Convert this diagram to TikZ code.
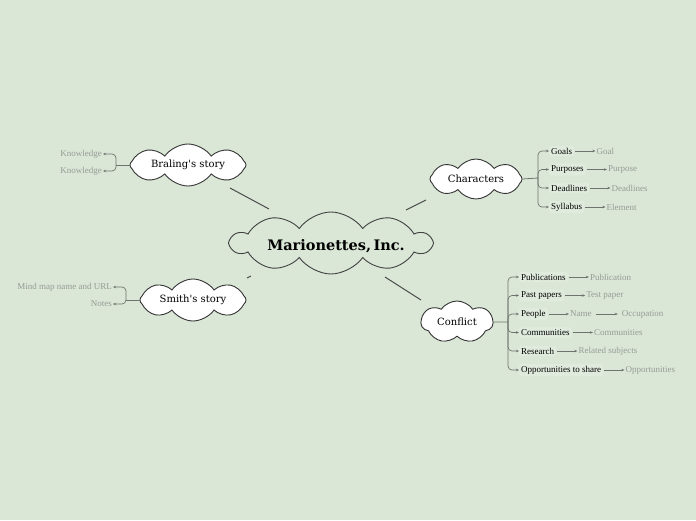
\documentclass[tikz,border=0pt]{standalone}
\usepackage{fontspec}
\setmainfont{Liberation Serif}
\newfontfamily\slabfont{DejaVu Serif}
\usetikzlibrary{shapes.symbols,arrows.meta,positioning}
\definecolor{bgc}{RGB}{218,231,214}
\definecolor{boxc}{RGB}{224,235,221}
\definecolor{linec}{RGB}{75,75,75}
\definecolor{brc}{RGB}{110,115,110}
\definecolor{subc}{RGB}{150,155,150}
\tikzset{
  cloudbox/.style={cloud, cloud puffs=8, cloud puff arc=110, cloud ignores aspect, draw=black!80, line width=0.9pt, fill=white, inner sep=0pt, font=\slabfont\fontsize{10}{12}\selectfont},
  itembox/.style={anchor=west, fill=boxc, rounded corners=2pt, inner sep=2pt, text=black, font=\fontsize{9}{10}\selectfont},
  subtxt/.style={anchor=west, inner sep=1pt, text=subc, font=\fontsize{9}{10}\selectfont},
  lefttxt/.style={anchor=east, inner sep=1pt, text=subc, font=\fontsize{9}{10}\selectfont},
  conn/.style={draw=linec, line width=1pt},
  brl/.style={draw=brc, line width=0.8pt},
  bra/.style={draw=brc, line width=0.7pt, rounded corners=4pt, -{Stealth[length=3pt,width=2.5pt]}},
  suba/.style={draw=brc, line width=0.7pt, -{Stealth[length=3pt,width=2.5pt]}},
}
\begin{document}
\begin{tikzpicture}[x=1pt,y=1pt]
\fill[bgc] (0,0) rectangle (696,-520);
\useasboundingbox (0,0) rectangle (696,-520);

% central
\node[cloud, cloud puffs=10, cloud puff arc=110, cloud ignores aspect, draw=black!75, line width=0.9pt, fill=bgc, minimum width=200pt, minimum height=62pt, inner sep=0pt] (main) at (331,-243) {};
\node[font=\slabfont\bfseries\fontsize{14.5}{16}\selectfont, inner sep=0pt] (maintext) at (336,-246) {Marionettes,\,Inc.};

% topic clouds
\node[cloudbox, minimum width=116pt, minimum height=42pt] (bral) at (188,-165) {Braling's story};
\node[cloudbox, minimum width=92pt, minimum height=40pt] (char) at (476,-179) {Characters};
\node[cloudbox, minimum width=106pt, minimum height=42pt] (smith) at (193,-300) {Smith's story};
\node[cloudbox, cloud puffs=7, minimum width=72pt, minimum height=42pt] (conf) at (457,-322) {Conflict};

% connectors from center
\coordinate (c1a) at (269,-209); \coordinate (c1b) at (230,-188);
\coordinate (c2a) at (406,-210); \coordinate (c2b) at (426,-200);
\coordinate (c3a) at (251,-276); \coordinate (c3b) at (247,-278);
\coordinate (c4a) at (385,-277); \coordinate (c4b) at (421,-300);
\draw[conn] (c1a) -- (c1b);
\draw[conn] (c2a) -- (c2b);
\draw[conn] (c3a) -- (c3b);
\draw[conn] (c4a) -- (c4b);

% Characters branch
\coordinate (cj) at (538,-178);
\draw[brl] (char.east) -- (cj);
\node[itembox] (goals) at (549,-151) {Goals};
\node[itembox] (purp) at (549,-169.5) {Purposes};
\node[itembox] (dead) at (549,-188) {Deadlines};
\node[itembox] (syll) at (549,-207) {Syllabus};
\foreach \n in {goals,purp,dead,syll} \draw[bra] (cj) |- (\n.west);
\node[subtxt, right=21pt of goals] (goal) {Goal};
\node[subtxt, right=21pt of purp] (purpose) {Purpose};
\node[subtxt, right=21pt of dead] (deadl) {Deadlines};
\node[subtxt, right=21pt of syll] (elem) {Element};
\draw[suba] ([xshift=1pt]goals.east) -- (goal.west);
\draw[suba] ([xshift=1pt]purp.east) -- (purpose.west);
\draw[suba] ([xshift=1pt]dead.east) -- (deadl.west);
\draw[suba] ([xshift=1pt]syll.east) -- (elem.west);

% Conflict branch
\coordinate (fj) at (508,-322);
\draw[brl] (conf.east) -- (fj);
\node[itembox] (pub) at (519,-277) {Publications};
\node[itembox] (past) at (519,-295.5) {Past papers};
\node[itembox] (peop) at (519,-314) {People};
\node[itembox] (comm) at (519,-332.5) {Communities};
\node[itembox] (res) at (519,-351) {Research};
\node[itembox] (opp) at (519,-370) {Opportunities to share};
\foreach \n in {pub,past,peop,comm,res,opp} \draw[bra] (fj) |- (\n.west);
\node[subtxt, right=21pt of pub] (publ) {Publication};
\node[subtxt, right=21pt of past] (test) {Test paper};
\node[subtxt, right=21pt of peop] (name) {Name};
\node[subtxt, right=28pt of name] (occ) {Occupation};
\node[subtxt, right=21pt of comm] (comm2) {Communities};
\node[subtxt, right=21pt of res] (rel) {Related subjects};
\node[subtxt, right=21pt of opp] (opps) {Opportunities};
\draw[suba] ([xshift=1pt]pub.east) -- (publ.west);
\draw[suba] ([xshift=1pt]past.east) -- (test.west);
\draw[suba] ([xshift=1pt]peop.east) -- (name.west);
\draw[suba] ([xshift=3pt]name.east) -- ([xshift=-3pt]occ.west);
\draw[suba] ([xshift=1pt]comm.east) -- (comm2.west);
\draw[suba] ([xshift=1pt]res.east) -- (rel.west);
\draw[suba] ([xshift=1pt]opp.east) -- (opps.west);

% Braling branch
\coordinate (bj) at (116,-165);
\draw[brl] (bral.west) -- (bj);
\node[lefttxt] (k1) at (103,-154) {Knowledge};
\node[lefttxt] (k2) at (103,-171) {Knowledge};
\draw[bra] (bj) |- (k1.east);
\draw[bra] (bj) |- (k2.east);

% Smith branch
\coordinate (sj) at (126,-300);
\draw[brl] (smith.west) -- (sj);
\node[lefttxt] (mm) at (113,-287) {Mind map name and URL};
\node[lefttxt] (notes) at (113,-304) {Notes};
\draw[bra] (sj) |- (mm.east);
\draw[bra] (sj) |- (notes.east);
\end{tikzpicture}
\end{document}
